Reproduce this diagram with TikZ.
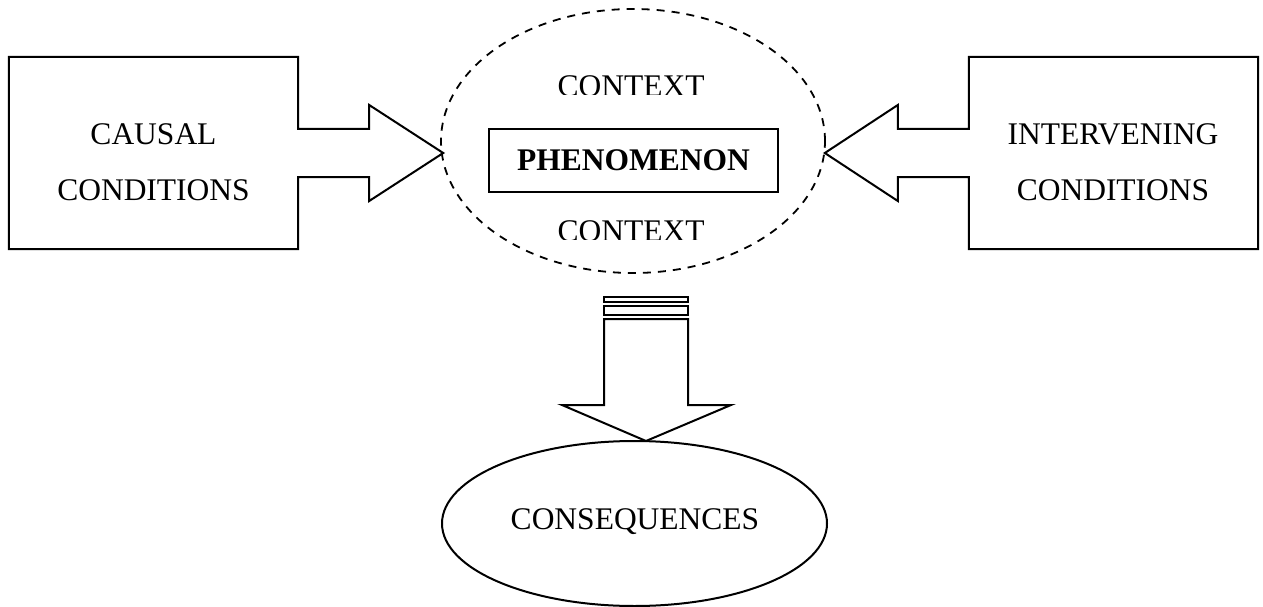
\documentclass[tikz,border=0pt]{standalone}
\usepackage{fontspec}
\setmainfont{Liberation Serif}
\usetikzlibrary{shapes.geometric,calc}
\begin{document}
\begin{tikzpicture}[x=1pt,y=-1pt,
  outl/.style={draw=black,line width=2pt,line join=miter},
  lbl/.style={inner sep=0pt,anchor=base,font=\fontsize{31.5}{38}\selectfont},
  condbox/.style={inner sep=0pt,minimum width=289pt,minimum height=192pt},
]
\useasboundingbox (0,0) rectangle (1263,607);

% condition boxes; their outlines are drawn together with the block arrows
\node[condbox] (causal) at (153.5,153) {};
\node[condbox] (interv) at (1113.5,153) {};

% context ellipse and the phenomenon box inside it
\node[ellipse,draw=black,line width=1.8pt,dash pattern=on 8pt off 7pt,
      minimum width=384pt,minimum height=264pt,inner sep=0pt] (ctx) at (633,141) {};
\node[outl,minimum width=289pt,minimum height=63pt,inner sep=0pt,
      font=\bfseries\fontsize{31.5}{38}\selectfont] (phen) at (633.5,160.5) {PHENOMENON};

% consequences ellipse
\node[ellipse,outl,minimum width=385pt,minimum height=165pt,inner sep=0pt] (cons) at (634.5,523.5) {};

% arrow tips
\coordinate (tipL) at ($(causal.east)+(145,0)$);
\coordinate (tipR) at ($(interv.west)+(-144,0)$);
\coordinate (tipD) at (646,441);

% causal conditions box merged with its arrow
\draw[outl] (causal.south east) -- (causal.south west) -- (causal.north west) -- (causal.north east)
  -- ($(causal.east)+(0,-24)$) -- ++(71,0) -- ++(0,-24) -- (tipL)
  -- ($(causal.east)+(71,48)$) -- ++(0,-24) -- ($(causal.east)+(0,24)$) -- cycle;

% intervening conditions box merged with its arrow
\draw[outl] (interv.south west) -- (interv.south east) -- (interv.north east) -- (interv.north west)
  -- ($(interv.west)+(0,-24)$) -- ++(-71,0) -- ++(0,-24) -- (tipR)
  -- ($(interv.west)+(-71,48)$) -- ++(0,-24) -- ($(interv.west)+(0,24)$) -- cycle;

% downward arrow with its two bars
\draw[outl] (604,297) rectangle (688,302);
\draw[outl] (604,306) rectangle (688,315);
\draw[outl] (604,319) -- (604,405) -- (562,405) -- (tipD) -- (731,405) -- (688,405) -- (688,319) -- cycle;

% labels
\node[lbl] (causalA) at (153.5,145) {CAUSAL};
\node[lbl] (causalB) at (153.5,200) {CONDITIONS};
\node[lbl] (intervA) at (1113,145) {INTERVENING};
\node[lbl] (intervB) at (1113,200) {CONDITIONS};
\node[lbl] (consL) at (635,529) {CONSEQUENCES};

% context labels, cut off just above their baseline
\begin{scope}
  \clip (500,60) rectangle (760,95);
  \node[lbl] (ctxTop) at (631,96.5) {CONTEXT};
\end{scope}
\begin{scope}
  \clip (500,205) rectangle (760,239.5);
  \node[lbl] (ctxBot) at (631,241) {CONTEXT};
\end{scope}
\end{tikzpicture}
\end{document}
